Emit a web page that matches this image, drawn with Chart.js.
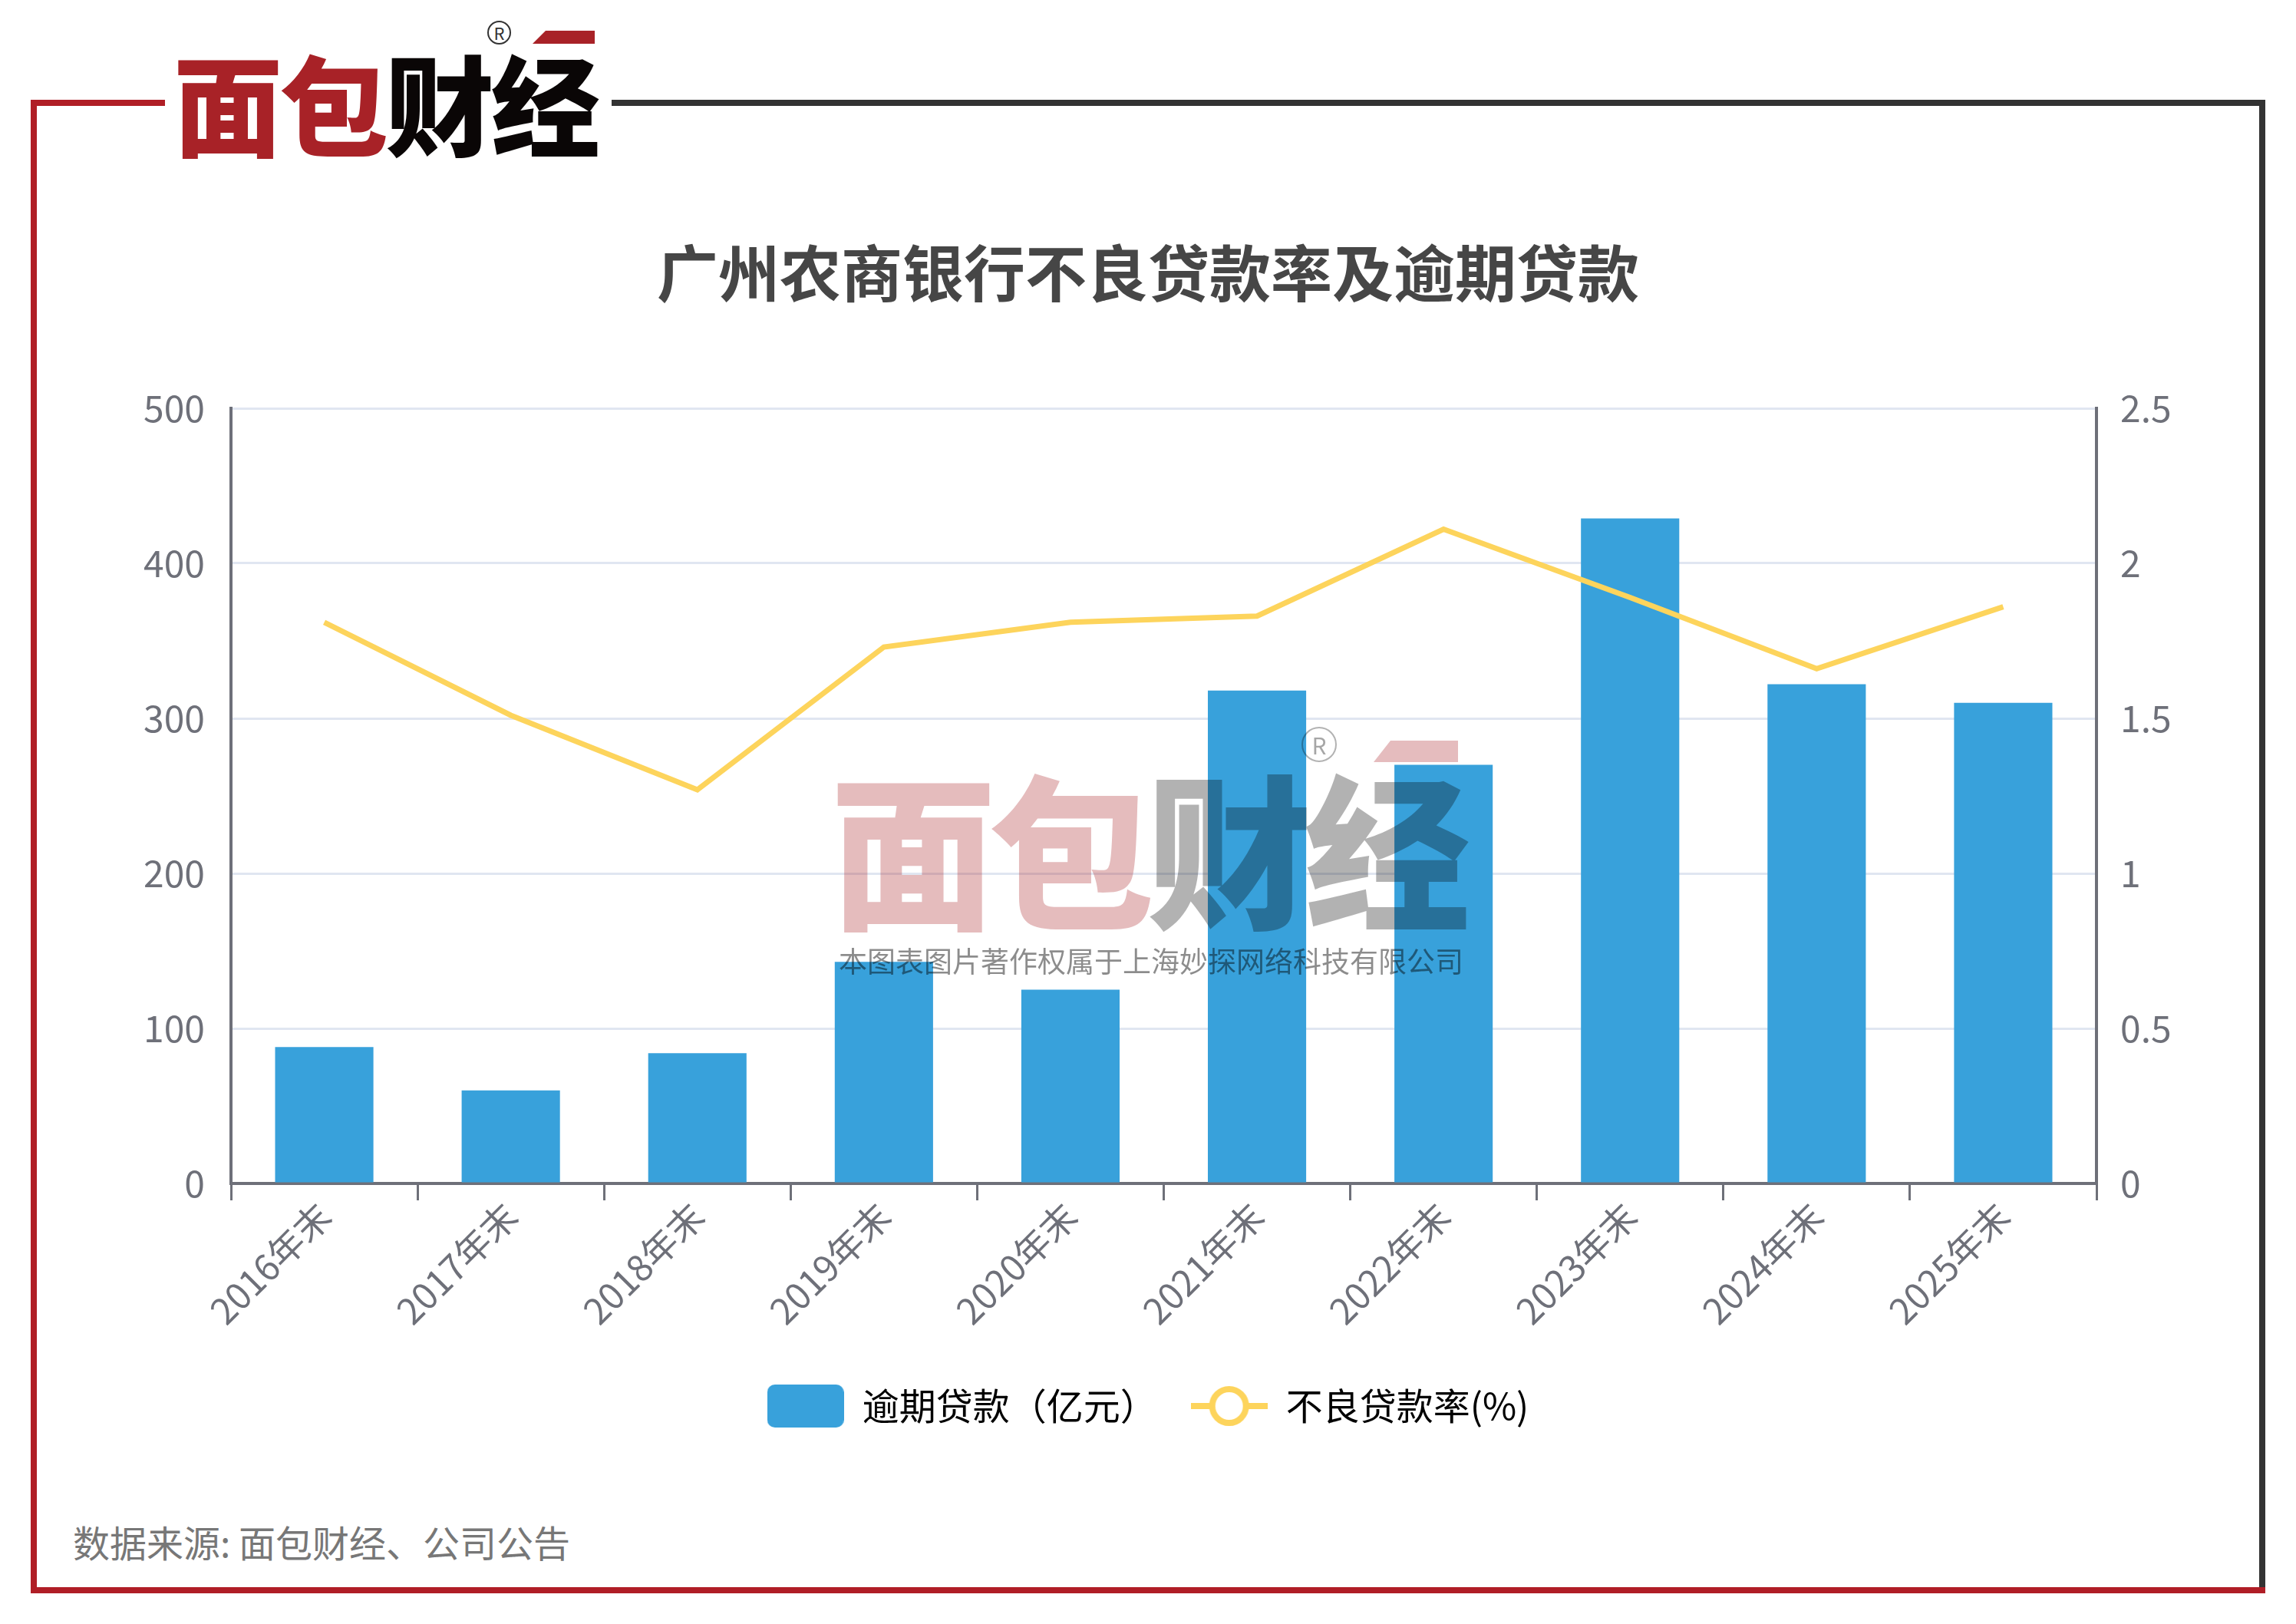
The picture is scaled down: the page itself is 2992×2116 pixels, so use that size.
<!DOCTYPE html>
<html>
<head>
<meta charset="utf-8">
<script src="https://cdn.jsdelivr.net/npm/chart.js@4.4.1/dist/chart.umd.min.js"></script>
<style>
  html, body { margin: 0; padding: 0; background: #fff; }
  body { width: 2992px; height: 2116px; position: relative; overflow: hidden; font-family: "Noto Sans CJK SC", "Noto Sans", sans-serif; }
  .abs { position: absolute; }
  .red { background: #b01e26; }
  .gray { background: #333; }
  #chartWrap { position: absolute; left: 0; top: 440px; width: 2992px; height: 1480px; }
  .logo { white-space: nowrap; line-height: 1; font-weight: 900; }
  .reg { border-radius: 50%; text-align: center; box-sizing: border-box; }
</style>
</head>
<body>
<!-- frame -->
<div class="abs red" style="left:40px;top:130px;width:175px;height:8px;"></div>
<div class="abs gray" style="left:797px;top:130px;width:2155px;height:8px;"></div>
<div class="abs red" style="left:40px;top:130px;width:8px;height:1946px;"></div>
<div class="abs gray" style="left:2944px;top:130px;width:8px;height:1940px;"></div>
<div class="abs red" style="left:40px;top:2068px;width:2912px;height:8px;"></div>

<!-- top-left logo -->
<div class="abs logo" style="left:226px;top:60px;font-size:142px;letter-spacing:-4px;">
  <span style="color:#a82227;">面包</span><span style="color:#0a0606;">财经</span>
</div>
<div class="abs" style="left:694px;top:40px;width:81px;height:17px;background:#a82227;clip-path:polygon(0 100%,21% 0,100% 0,100% 100%);"></div>
<div class="abs reg" style="left:635px;top:27px;width:31px;height:31px;border:2px solid #333;font-size:22px;line-height:27px;color:#333;">R</div>

<!-- title -->
<div class="abs" style="left:0;width:2992px;top:298px;text-align:center;font-size:80px;font-weight:700;color:#464646;line-height:106px;">广州农商银行不良贷款率及逾期贷款</div>

<div id="chartWrap"><canvas id="c" width="2992" height="1480"></canvas></div>

<!-- watermark -->
<div class="abs logo" style="left:1082px;top:992px;font-size:216px;letter-spacing:-10px;opacity:0.3;pointer-events:none;">
  <span style="color:#a82227;">面包</span><span style="color:#000;">财经</span>
</div>
<div class="abs" style="left:1790px;top:965px;width:110px;height:28px;background:#a82227;opacity:0.3;clip-path:polygon(0 100%,20% 0,100% 0,100% 100%);"></div>
<div class="abs reg" style="left:1696px;top:947px;width:46px;height:46px;border:2px solid rgba(0,0,0,0.3);font-size:30px;line-height:42px;color:rgba(0,0,0,0.35);">R</div>
<div class="abs" style="left:1093px;top:1229px;width:812px;font-size:37px;line-height:44px;color:rgba(0,0,0,0.45);white-space:nowrap;letter-spacing:0px;">本图表图片著作权属于上海妙探网络科技有限公司</div>

<!-- source -->
<div class="abs" style="left:95px;top:1979px;font-size:48px;line-height:58px;color:#777;white-space:nowrap;">数据来源: 面包财经、公司公告</div>

<script>
// ---- data ----
const categories = ['2016年末', '2017年末', '2018年末', '2019年末', '2020年末', '2021年末', '2022年末', '2023年末', '2024年末', '2025年末'];
const overdueLoans = [88, 60, 84, 143, 125, 318, 270, 429, 322, 310];
const nplRatio = [1.81, 1.51, 1.27, 1.73, 1.81, 1.83, 2.11, 1.89, 1.66, 1.86];
const leftTicks = [0, 100, 200, 300, 400, 500];
const rightTicks = [0, 0.5, 1, 1.5, 2, 2.5];
const seriesNames = ['逾期贷款（亿元）', '不良贷款率(%)'];

const BAR_COLOR = '#38a1db';
const LINE_COLOR = '#fdd45c';
const AXIS_COLOR = '#6e7079';
const GRID_COLOR = '#e0e6f1';
const FONT = '"Noto Sans CJK SC", "Noto Sans", sans-serif';

function barIcon() {
  const c = document.createElement('canvas');
  c.width = 100; c.height = 56;
  const g = c.getContext('2d');
  g.fillStyle = BAR_COLOR;
  g.beginPath();
  g.roundRect(0, 0, 100, 56, 10);
  g.fill();
  return c;
}
function lineIcon() {
  const c = document.createElement('canvas');
  c.width = 100; c.height = 60;
  const g = c.getContext('2d');
  g.strokeStyle = LINE_COLOR;
  g.lineWidth = 8;
  g.beginPath(); g.moveTo(0, 30); g.lineTo(100, 30); g.stroke();
  g.fillStyle = '#fff';
  g.beginPath(); g.arc(50, 30, 22, 0, Math.PI * 2); g.fill(); g.stroke();
  return c;
}
const icons = [barIcon(), lineIcon()];

new Chart(document.getElementById('c'), {
  data: {
    labels: categories,
    datasets: [
      {
        type: 'bar', label: seriesNames[0], data: overdueLoans, yAxisID: 'y',
        backgroundColor: BAR_COLOR, categoryPercentage: 1, barPercentage: 0.527, order: 2
      },
      {
        type: 'line', label: seriesNames[1], data: nplRatio, yAxisID: 'y1',
        borderColor: LINE_COLOR, backgroundColor: LINE_COLOR, borderWidth: 7,
        pointRadius: 0, tension: 0, order: 1
      }
    ]
  },
  options: {
    responsive: false,
    animation: false,
    layout: { padding: { top: 92, bottom: 54, left: 0, right: 0 } },
    plugins: {
      tooltip: { enabled: false },
      legend: {
        position: 'bottom',
        labels: {
          usePointStyle: true,
          pointStyleWidth: 100,
          boxHeight: 48,
          padding: 44,
          color: '#333',
          font: { family: FONT, size: 48 },
          generateLabels: (chart) => chart.data.datasets.map((ds, i) => ({
            text: ds.label, pointStyle: icons[i], datasetIndex: i,
            fillStyle: 'transparent', strokeStyle: 'transparent', lineWidth: 0, hidden: false
          }))
        }
      }
    },
    scales: {
      x: {
        type: 'category',
        grid: { display: true, drawOnChartArea: false, offset: true, color: AXIS_COLOR, lineWidth: 3, tickLength: 22, tickColor: AXIS_COLOR },
        border: { color: AXIS_COLOR, width: 4 },
        ticks: { color: AXIS_COLOR, font: { family: FONT, size: 47 }, minRotation: 45, maxRotation: 45, padding: -8 },
        afterFit: (s) => { s.height = 222; }
      },
      y: {
        position: 'left', min: 0, max: 500,
        afterBuildTicks: (s) => { s.ticks = leftTicks.map(v => ({ value: v })); },
        grid: { color: GRID_COLOR, lineWidth: 3, drawTicks: false },
        border: { color: AXIS_COLOR, width: 4 },
        ticks: { color: AXIS_COLOR, font: { family: FONT, size: 48 }, padding: 34 },
        afterFit: (s) => { s.width = 301; }
      },
      y1: {
        position: 'right', min: 0, max: 2.5,
        afterBuildTicks: (s) => { s.ticks = rightTicks.map(v => ({ value: v })); },
        grid: { drawOnChartArea: false, drawTicks: false },
        border: { color: AXIS_COLOR, width: 4 },
        ticks: { color: AXIS_COLOR, font: { family: FONT, size: 48 }, padding: 31, callback: (v) => String(v) },
        afterFit: (s) => { s.width = 260; }
      }
    }
  }
});
</script>
</body>
</html>
